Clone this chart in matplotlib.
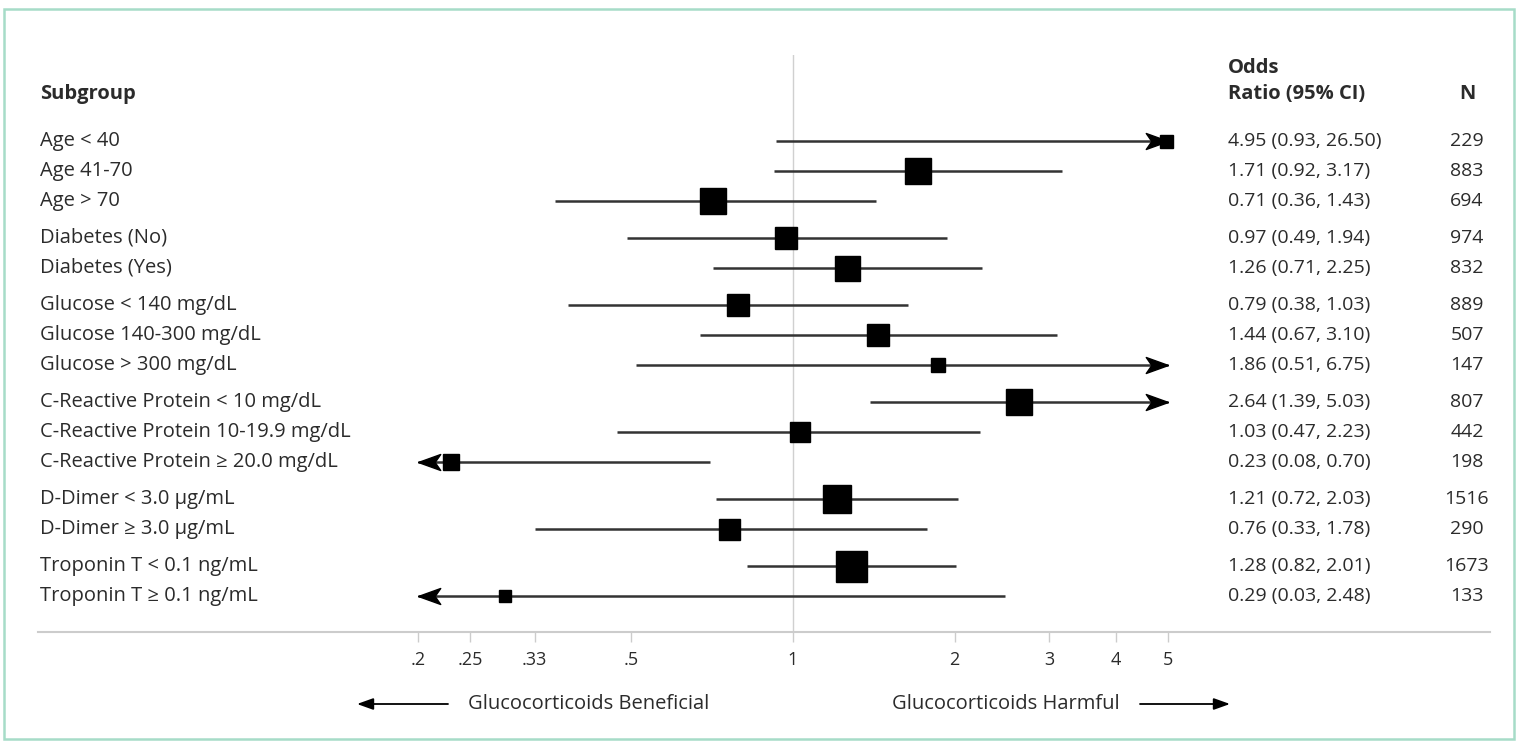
import matplotlib
matplotlib.use('Agg')
import matplotlib.pyplot as plt
import matplotlib.transforms as mtransforms
from matplotlib.patches import Rectangle
import numpy as np

# forest plot data
subgroups = ['Age < 40', 'Age 41-70', 'Age > 70',
             'Diabetes (No)', 'Diabetes (Yes)',
             'Glucose < 140 mg/dL', 'Glucose 140-300 mg/dL', 'Glucose > 300 mg/dL',
             'C-Reactive Protein < 10 mg/dL', 'C-Reactive Protein 10-19.9 mg/dL',
             'C-Reactive Protein \u2265 20.0 mg/dL',
             'D-Dimer < 3.0 \u03bcg/mL', 'D-Dimer \u2265 3.0 \u03bcg/mL',
             'Troponin T < 0.1 ng/mL', 'Troponin T \u2265 0.1 ng/mL']
group = [0, 0, 0, 1, 1, 2, 2, 2, 3, 3, 3, 4, 4, 5, 5]
odds = [4.95, 1.71, 0.71, 0.97, 1.26, 0.79, 1.44, 1.86, 2.64, 1.03, 0.23, 1.21, 0.76, 1.28, 0.29]
ci_lo = [0.93, 0.92, 0.36, 0.49, 0.71, 0.38, 0.67, 0.51, 1.39, 0.47, 0.08, 0.72, 0.33, 0.82, 0.03]
# upper limits as drawn (glucose < 140 line runs past the printed 1.03)
ci_hi = [26.50, 3.17, 1.43, 1.94, 2.25, 1.64, 3.10, 6.75, 5.03, 2.23, 0.70, 2.03, 1.78, 2.01, 2.48]
ci_text = ['4.95 (0.93, 26.50)', '1.71 (0.92, 3.17)', '0.71 (0.36, 1.43)',
           '0.97 (0.49, 1.94)', '1.26 (0.71, 2.25)',
           '0.79 (0.38, 1.03)', '1.44 (0.67, 3.10)', '1.86 (0.51, 6.75)',
           '2.64 (1.39, 5.03)', '1.03 (0.47, 2.23)', '0.23 (0.08, 0.70)',
           '1.21 (0.72, 2.03)', '0.76 (0.33, 1.78)',
           '1.28 (0.82, 2.01)', '0.29 (0.03, 2.48)']
n_pts = [229, 883, 694, 974, 832, 889, 507, 147, 807, 442, 198, 1516, 290, 1673, 133]
# relative weight of each estimate (box width as drawn)
weight = [13, 26, 26, 23, 25, 22, 22, 14, 26, 20, 16, 28, 21, 31, 12]

tick_vals = [0.2, 0.25, 0.33, 0.5, 1, 2, 3, 4, 5]
tick_labels = ['.2', '.25', '.33', '.5', '1', '2', '3', '4', '5']
x_min, x_max = 0.2, 5

W, H = 1519, 742
fig = plt.figure(figsize=(W / 100, H / 100), dpi=100)
plt.rcParams['font.family'] = ['Open Sans', 'DejaVu Sans']
txt = '#2b2b2b'
fs = 14
fs_lab = 14.5
fs_b = 14.5

# axes placement in pixels
left_px, right_px, top_px, bot_px = 38, 1490, 55, 632
one_px, per_dec = 793, 536.5
ax = fig.add_axes([left_px / W, 1 - bot_px / H, (right_px - left_px) / W, (bot_px - top_px) / H])
ax.set_xscale('log')
ax.set_xlim(10 ** ((left_px - one_px) / per_dec), 10 ** ((right_px - one_px) / per_dec))

ypos = np.arange(len(subgroups)) + 0.233 * np.array(group)
row0_px, row_px = 141, 30
ax.set_ylim((bot_px - row0_px) / row_px, (top_px - row0_px) / row_px)

ax.axvline(1, color='#d0d0d0', lw=1, zorder=1)

# notched arrowheads, tip at the marker origin
head_r = [(0, 0), (-1, 0.36), (-0.75, 0), (-1, -0.36), (0, 0)]
head_l = [(-x, y) for x, y in head_r]

for i in range(len(subgroups)):
    y = ypos[i]
    lo = max(ci_lo[i], x_min)
    hi = min(ci_hi[i], x_max)
    ax.plot([lo, hi], [y, y], color='#333333', lw=1.8, zorder=2, solid_capstyle='butt')
    if ci_hi[i] > x_max:
        ax.plot(x_max, y, marker=head_r, markersize=32, color='black', zorder=3,
                linestyle='none')
    if ci_lo[i] < x_min:
        ax.plot(x_min, y, marker=head_l, markersize=32, color='black', zorder=3,
                linestyle='none')
    ax.plot(odds[i], y, marker='s', color='black', markersize=weight[i] * 0.72,
            zorder=4, linestyle='none')

for s in ['top', 'left', 'right']:
    ax.spines[s].set_visible(False)
ax.spines['bottom'].set_color('#cccccc')
ax.spines['bottom'].set_linewidth(1.5)
ax.set_yticks([])
ax.set_xticks(tick_vals)
ax.set_xticklabels(tick_labels)
ax.xaxis.set_minor_locator(matplotlib.ticker.NullLocator())
ax.tick_params(axis='x', direction='out', length=7, width=1, color='#cccccc',
               pad=7, labelsize=13, labelcolor=txt)

# text columns
tr = mtransforms.blended_transform_factory(fig.transFigure, ax.transData)
for i in range(len(subgroups)):
    y = ypos[i]
    ax.text(40 / W, y, subgroups[i], transform=tr, ha='left', va='center',
            fontsize=fs_lab, color=txt)
    ax.text(1228 / W, y, ci_text[i], transform=tr, ha='left', va='center',
            fontsize=fs, color=txt)
    ax.text(1467 / W, y, str(n_pts[i]), transform=tr, ha='center', va='center',
            fontsize=fs, color=txt)

fig.text(40 / W, 1 - 94 / H, 'Subgroup', ha='left', va='center', fontsize=fs_b,
         fontweight='bold', color=txt)
fig.text(1228 / W, 1 - 68 / H, 'Odds', ha='left', va='center', fontsize=fs_b,
         fontweight='bold', color=txt)
fig.text(1228 / W, 1 - 94 / H, 'Ratio (95% CI)', ha='left', va='center', fontsize=fs_b,
         fontweight='bold', color=txt)
fig.text(1467 / W, 1 - 94 / H, 'N', ha='center', va='center', fontsize=fs_b,
         fontweight='bold', color=txt)

# direction arrows under the axis
arr = dict(arrowstyle='-|>,head_length=0.7,head_width=0.25', mutation_scale=14,
           color='black', lw=1.3, shrinkA=0, shrinkB=0)
ya = H - 704
ax.annotate('', xy=(357, ya), xytext=(448, ya), xycoords='figure pixels', arrowprops=arr)
ax.annotate('', xy=(1230, ya), xytext=(1140, ya), xycoords='figure pixels', arrowprops=arr)
fig.text(468 / W, ya / H, 'Glucocorticoids Beneficial', ha='left', va='center',
         fontsize=fs_lab, color=txt)
fig.text(1120 / W, ya / H, 'Glucocorticoids Harmful', ha='right', va='center',
         fontsize=fs_lab, color=txt)

# outer frame
fig.add_artist(Rectangle((4 / W, 1 - 739 / H), 1510 / W, 730 / H, transform=fig.transFigure,
                         fill=False, edgecolor='#a6dcc8', lw=1.8))

fig.savefig('out.png', dpi=100)
